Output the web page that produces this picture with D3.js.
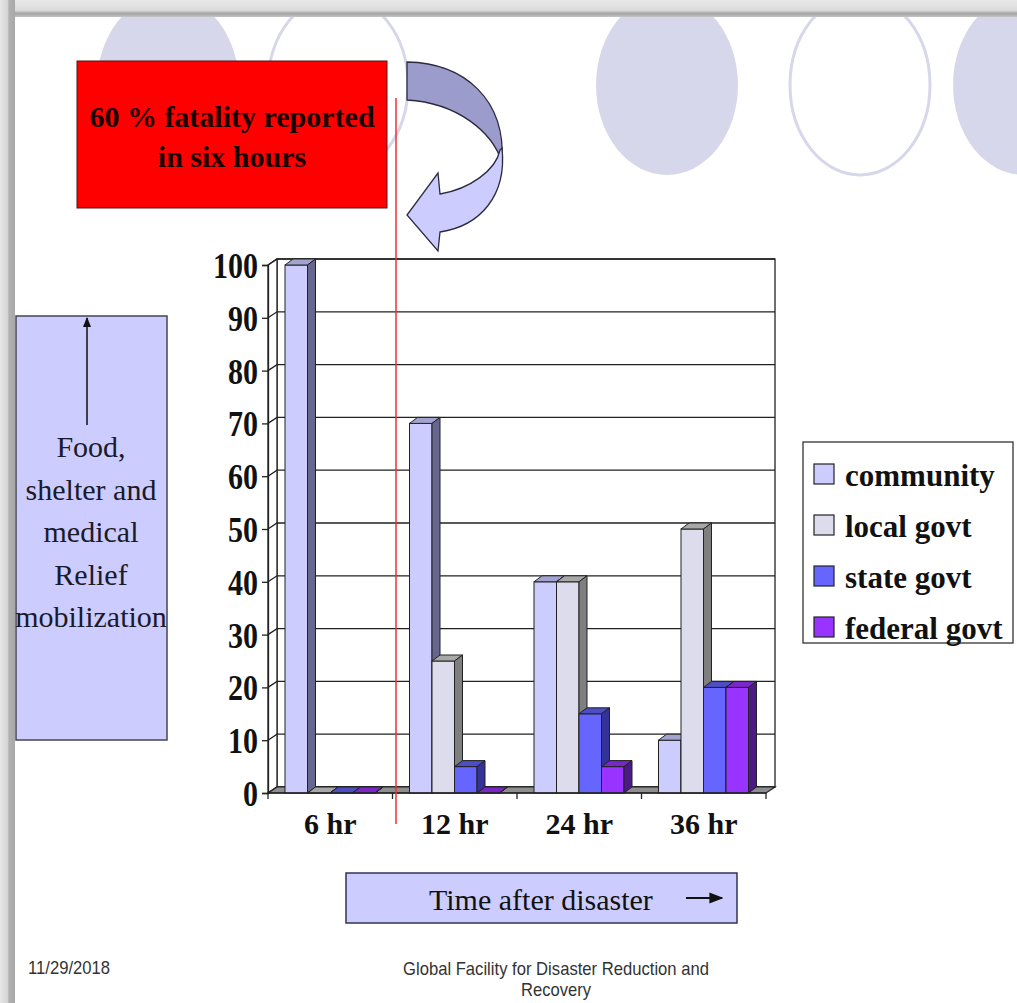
<!DOCTYPE html>
<html>
<head>
<meta charset="utf-8">
<script src="https://cdn.jsdelivr.net/npm/d3@7"></script>
<style>
  html, body { margin: 0; padding: 0; background: #fff; }
  svg { display: block; }
</style>
</head>
<body>
<div id="chart"></div>
<script>
// ---------- DATA ----------
const categories = ["6 hr", "12 hr", "24 hr", "36 hr"];
const seriesNames = ["community", "local govt", "state govt", "federal govt"];
const community = [100, 70, 40, 10];
const localGovt = [0, 25, 40, 50];
const stateGovt = [0, 5, 15, 20];
const federalGovt = [0, 0, 5, 20];
const yTicks = [0, 10, 20, 30, 40, 50, 60, 70, 80, 90, 100];
const leftBoxLines = ["Food,", "shelter and", "medical", "Relief", "mobilization"];
const calloutLines = ["60 % fatality reported", "in six hours"];

// ---------- STYLE ----------
const seriesValues = [community, localGovt, stateGovt, federalGovt];
const frontColors = ["#CCCCFF", "#DCDCEC", "#6666FF", "#9933FF"];
const topColors   = ["#A3A3CF", "#A8A8A8", "#4D4DC4", "#7A26C8"];
const sideColors  = ["#66668F", "#7F7F7F", "#333399", "#4C1A85"];
const serif = "'Liberation Serif', 'Times New Roman', serif";
const sans = "'Liberation Sans', Arial, sans-serif";

const W = 1017, H = 1003;
const svg = d3.select("#chart").append("svg").attr("width", W).attr("height", H);

const defs = svg.append("defs");
const gTop = defs.append("linearGradient").attr("id", "gtop").attr("x1", 0).attr("y1", 0).attr("x2", 0).attr("y2", 1);
gTop.append("stop").attr("offset", "0%").attr("stop-color", "#e8e8e8");
gTop.append("stop").attr("offset", "60%").attr("stop-color", "#dcdcdc");
gTop.append("stop").attr("offset", "80%").attr("stop-color", "#a4a4a4");
gTop.append("stop").attr("offset", "100%").attr("stop-color", "#c4c4c4");
const gLeft = defs.append("linearGradient").attr("id", "gleft").attr("x1", 0).attr("y1", 0).attr("x2", 1).attr("y2", 0);
gLeft.append("stop").attr("offset", "0%").attr("stop-color", "#e6e6e6");
gLeft.append("stop").attr("offset", "50%").attr("stop-color", "#d4d4d4");
gLeft.append("stop").attr("offset", "60%").attr("stop-color", "#b0b0b0");
gLeft.append("stop").attr("offset", "100%").attr("stop-color", "#a8a8a8");
defs.append("marker").attr("id", "ahead").attr("viewBox", "0 0 10 10").attr("refX", 9).attr("refY", 5)
  .attr("markerWidth", 7).attr("markerHeight", 7).attr("orient", "auto-start-reverse")
  .append("path").attr("d", "M0,1 L10,5 L0,9 Z").attr("fill", "#111");

// background
svg.append("rect").attr("width", W).attr("height", H).attr("fill", "#fff");

// decorative ellipses
const ellipses = [
  { cx: 168, filled: true }, { cx: 338, filled: false }, { cx: 667, filled: true },
  { cx: 860, filled: false }, { cx: 1024, filled: true }
];
svg.selectAll("ellipse.deco").data(ellipses).join("ellipse")
  .attr("class", "deco").attr("cx", d => d.cx).attr("cy", 85).attr("rx", d => d.filled ? 71 : 70).attr("ry", 90)
  .attr("fill", d => d.filled ? "#D7D7EB" : "none")
  .attr("stroke", d => d.filled ? "none" : "#D7D7EB").attr("stroke-width", 3);

// frame
svg.append("rect").attr("x", 0).attr("y", 0).attr("width", W).attr("height", 17).attr("fill", "url(#gtop)");
svg.append("rect").attr("x", 0).attr("y", 0).attr("width", 15).attr("height", H).attr("fill", "url(#gleft)");

// red callout
svg.append("rect").attr("x", 77).attr("y", 61).attr("width", 310).attr("height", 147)
  .attr("fill", "#FF0000").attr("stroke", "#5a1010").attr("stroke-width", 1);
svg.selectAll("text.callout").data(calloutLines).join("text")
  .attr("class", "callout").attr("x", 232).attr("y", (d, i) => 127 + i * 40)
  .attr("text-anchor", "middle").attr("font-family", serif).attr("font-weight", "bold")
  .attr("font-size", 30).attr("fill", "#1a0000").text(d => d);

// curved block arrow
svg.append("path")
  .attr("d", "M407,62 C465,63 506,100 502,162 C492,132 458,103 407,100 Z")
  .attr("fill", "#9C9CCC").attr("stroke", "#2a2a40").attr("stroke-width", 1.3);
svg.append("path")
  .attr("d", "M502,148 C507,196 480,226 440,232 L438,251 L407,215 L438,173 L440,194 C470,189 496,170 500,150 Z")
  .attr("fill", "#CCCCFF").attr("stroke", "#2a2a40").attr("stroke-width", 1.3);

// left box
svg.append("rect").attr("x", 16).attr("y", 316).attr("width", 151).attr("height", 424)
  .attr("fill", "#CCCCFF").attr("stroke", "#444455").attr("stroke-width", 1.5);
svg.append("line").attr("x1", 87).attr("y1", 425).attr("x2", 87).attr("y2", 318)
  .attr("stroke", "#111").attr("stroke-width", 1.5).attr("marker-end", "url(#ahead)");
svg.selectAll("text.leftbox").data(leftBoxLines).join("text")
  .attr("class", "leftbox").attr("x", 91).attr("y", (d, i) => 457 + i * 42.5)
  .attr("text-anchor", "middle").attr("font-family", serif).attr("font-size", 30)
  .attr("fill", "#1a1a28").text(d => d);

// ---------- CHART ----------
const DX = 8, DY = -6, WDX = 9;
const x0 = d3.scaleBand().domain(categories).range([268, 766]);
const x1 = d3.scaleBand().domain(seriesNames).range([17, 107]);
const y = d3.scaleLinear().domain([0, 100]).range([793, 265]);
const xL = x0.range()[0], xR = x0.range()[1];
const yB = y(0), yT = y(100);

const chart = svg.append("g");
// back wall
chart.append("rect").attr("x", xL + WDX).attr("y", yT + DY).attr("width", xR - xL).attr("height", yB - yT)
  .attr("fill", "#fff").attr("stroke", "#222").attr("stroke-width", 1.3);
// left wall
chart.append("polygon")
  .attr("points", [[xL, yB], [xL, yT], [xL + WDX, yT + DY], [xL + WDX, yB + DY]].map(p => p.join(",")).join(" "))
  .attr("fill", "#fff").attr("stroke", "#222").attr("stroke-width", 1.3);
// gridlines
chart.selectAll("path.grid").data(yTicks).join("path")
  .attr("class", "grid")
  .attr("d", t => `M${xL},${y(t)} L${xL + WDX},${y(t) + DY} L${xR + WDX},${y(t) + DY}`)
  .attr("fill", "none").attr("stroke", "#222").attr("stroke-width", 1.3);
// floor
chart.append("polygon")
  .attr("points", [[xL, yB], [xR, yB], [xR + WDX, yB + DY], [xL + WDX, yB + DY]].map(p => p.join(",")).join(" "))
  .attr("fill", "#8E8E8E").attr("stroke", "#222").attr("stroke-width", 1.2);

// bars
const bars = [];
categories.forEach((c, ci) => {
  seriesNames.forEach((s, si) => {
    bars.push({ c, s, si, v: seriesValues[si][ci] });
  });
});
const barG = chart.selectAll("g.bar").data(bars).join("g").attr("class", "bar");
barG.each(function (d) {
  const g = d3.select(this);
  const x = x0(d.c) + x1(d.s), w = x1.bandwidth(), yv = y(d.v);
  g.append("rect").attr("x", x).attr("y", yv).attr("width", w).attr("height", yB - yv)
    .attr("fill", frontColors[d.si]).attr("stroke", "#222").attr("stroke-width", 1);
  g.append("polygon")
    .attr("points", [[x, yv], [x + DX, yv + DY], [x + w + DX, yv + DY], [x + w, yv]].map(p => p.join(",")).join(" "))
    .attr("fill", topColors[d.si]).attr("stroke", "#222").attr("stroke-width", 1);
  g.append("polygon")
    .attr("points", [[x + w, yv], [x + w + DX, yv + DY], [x + w + DX, yB + DY], [x + w, yB]].map(p => p.join(",")).join(" "))
    .attr("fill", sideColors[d.si]).attr("stroke", "#222").attr("stroke-width", 1);
});

// bottom tick marks at category boundaries
const bounds = categories.map(c => x0(c)).concat([xR]);
chart.selectAll("line.xt").data(bounds).join("line").attr("class", "xt")
  .attr("x1", d => d).attr("x2", d => d).attr("y1", yB).attr("y2", yB + 6)
  .attr("stroke", "#222").attr("stroke-width", 1.3);
chart.append("line").attr("x1", xL).attr("x2", xR).attr("y1", yB).attr("y2", yB)
  .attr("stroke", "#222").attr("stroke-width", 1.3);

// y axis
const yAxis = chart.append("g").attr("transform", `translate(${xL},0)`)
  .call(d3.axisLeft(y).tickValues(yTicks).tickSize(6).tickPadding(10));
yAxis.select(".domain").attr("stroke", "#222").attr("stroke-width", 1.3);
yAxis.selectAll(".tick line").attr("stroke", "#222").attr("stroke-width", 1.3);
yAxis.selectAll(".tick text")
  .attr("x", 0).attr("dy", null).attr("y", 0)
  .attr("transform", "translate(-10,0) scale(1,1.22)")
  .attr("dy", "0.34em")
  .attr("font-family", serif).attr("font-weight", "bold").attr("font-size", 30).attr("fill", "#111");

// x axis labels
const xAxis = chart.append("g").attr("transform", `translate(0,${yB})`)
  .call(d3.axisBottom(x0).tickSize(0).tickPadding(32));
xAxis.select(".domain").remove();
xAxis.selectAll(".tick text").attr("dy", "0.3em")
  .attr("font-family", serif).attr("font-weight", "bold").attr("font-size", 30).attr("fill", "#111");

// red marker line
svg.append("line").attr("x1", 396).attr("x2", 396).attr("y1", 98).attr("y2", 824)
  .attr("stroke", "#F03030").attr("stroke-width", 1.5);

// legend
const legend = svg.append("g");
legend.append("rect").attr("x", 803).attr("y", 442).attr("width", 210).attr("height", 201)
  .attr("fill", "#fff").attr("stroke", "#333").attr("stroke-width", 1.3);
const lg = legend.selectAll("g.li").data(seriesNames).join("g").attr("class", "li")
  .attr("transform", (d, i) => `translate(0,${486 + i * 51})`);
lg.append("rect").attr("x", 814).attr("y", -22).attr("width", 20).attr("height", 20)
  .attr("fill", (d, i) => frontColors[i]).attr("stroke", "#222").attr("stroke-width", 1.2);
lg.append("text").attr("x", 845).attr("y", 0).attr("font-family", serif).attr("font-weight", "bold")
  .attr("font-size", 31).attr("fill", "#111").text(d => d);

// time box
svg.append("rect").attr("x", 346).attr("y", 873).attr("width", 391).attr("height", 50)
  .attr("fill", "#CCCCFF").attr("stroke", "#333355").attr("stroke-width", 1.5);
svg.append("text").attr("x", 429).attr("y", 910).attr("font-family", serif).attr("font-size", 30)
  .attr("fill", "#111").text("Time after disaster");
svg.append("line").attr("x1", 686).attr("x2", 722).attr("y1", 898).attr("y2", 898)
  .attr("stroke", "#111").attr("stroke-width", 2).attr("marker-end", "url(#ahead)");

// footer
svg.append("text").attr("x", 28).attr("y", 974).attr("font-family", sans).attr("font-size", 19)
  .attr("textLength", 82).attr("lengthAdjust", "spacingAndGlyphs").attr("fill", "#333").text("11/29/2018");
svg.append("text").attr("x", 403).attr("y", 975).attr("font-family", sans).attr("font-size", 19)
  .attr("textLength", 306).attr("lengthAdjust", "spacingAndGlyphs").attr("fill", "#333")
  .text("Global Facility for Disaster Reduction and");
svg.append("text").attr("x", 556).attr("y", 996).attr("text-anchor", "middle").attr("font-family", sans)
  .attr("font-size", 19).attr("textLength", 70).attr("lengthAdjust", "spacingAndGlyphs").attr("fill", "#333")
  .text("Recovery");
</script>
</body>
</html>
